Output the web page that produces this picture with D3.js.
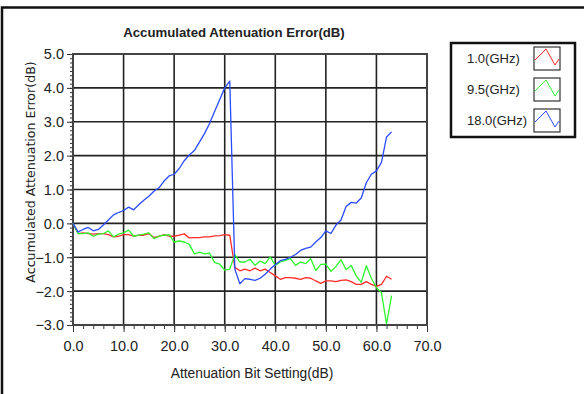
<!DOCTYPE html>
<html>
<head>
<meta charset="utf-8">
<script src="https://cdn.jsdelivr.net/npm/d3@7"></script>
<style>
  body { margin: 0; background: #fff; }
  svg text { font-family: "Liberation Sans Narrow", "Liberation Sans", sans-serif; fill: #222; }
</style>
</head>
<body>
<svg id="chart" width="584" height="394"></svg>
<script>
// attenuation bit setting, 0..63 dB
const bitSettings = d3.range(0, 64);

const err1GHz = [
  0, -0.3, -0.28, -0.3, -0.32, -0.3, -0.3, -0.33, -0.4, -0.38,
  -0.33, -0.33, -0.38, -0.35, -0.35, -0.3, -0.42, -0.38, -0.33, -0.38,
  -0.38, -0.35, -0.31, -0.43, -0.42, -0.42, -0.4, -0.4, -0.37, -0.36,
  -0.33, -0.35, -1.3, -1.4, -1.35, -1.4, -1.32, -1.4, -1.35, -1.45,
  -1.55, -1.65, -1.6, -1.6, -1.62, -1.65, -1.6, -1.62, -1.7, -1.77,
  -1.7, -1.7, -1.72, -1.68, -1.67, -1.72, -1.8, -1.8, -1.72, -1.8,
  -1.86, -1.8, -1.56, -1.65
];

const err9_5GHz = [
  0, -0.3, -0.3, -0.28, -0.38, -0.32, -0.3, -0.22, -0.4, -0.32,
  -0.28, -0.2, -0.38, -0.35, -0.32, -0.28, -0.45, -0.38, -0.35, -0.33,
  -0.55, -0.52, -0.55, -0.62, -0.9, -0.85, -0.9, -0.88, -1.15, -1.2,
  -1.38, -1.35, -0.92, -1.14, -1.14, -1.06, -1.24, -1.11, -1.19, -0.99,
  -1.24, -1.14, -1.09, -1.04, -1.24, -1.14, -1.19, -1.04, -1.39, -1.21,
  -1.2, -1.42, -1.27, -1.07, -1.37, -1.24, -1.55, -1.74, -1.25, -1.62,
  -1.9, -2.05, -2.97, -2.13
];

const err18GHz = [
  0, -0.25, -0.18, -0.12, -0.22, -0.18, -0.05, 0.1, 0.25, 0.32,
  0.38, 0.48, 0.4, 0.55, 0.68, 0.8, 0.95, 1.05, 1.25, 1.4,
  1.45, 1.62, 1.85, 2.02, 2.15, 2.4, 2.65, 2.95, 3.3, 3.65,
  4.0, 4.2, -1.35, -1.78, -1.63, -1.65, -1.68, -1.62, -1.5, -1.35,
  -1.22, -1.1, -1.06, -1.0, -0.92, -0.8, -0.74, -0.7, -0.55, -0.42,
  -0.22, -0.3, -0.05, 0.1, 0.5, 0.62, 0.6, 0.75, 1.2, 1.45,
  1.55, 1.8, 2.55, 2.7
];

const seriesNames = ["1.0(GHz)", "9.5(GHz)", "18.0(GHz)"];
const seriesColors = ["#ff2a2a", "#2ef52e", "#2a4bff"];
const seriesValues = [err1GHz, err9_5GHz, err18GHz];

const xTicks = [0, 10, 20, 30, 40, 50, 60, 70];
const yTicks = [-3, -2, -1, 0, 1, 2, 3, 4, 5];

const svg = d3.select('#chart');

// outer frame
svg.append('rect')
  .attr('x', 2).attr('y', 7.5)
  .attr('width', 620).attr('height', 420)
  .attr('fill', 'none').attr('stroke', '#111').attr('stroke-width', 2.5);

const margin = { top: 54, left: 73 };
const width = 354, height = 271;

const x = d3.scaleLinear().domain([0, 70]).range([0, width]);
const y = d3.scaleLinear().domain([-3, 5]).range([height, 0]);

const g = svg.append('g').attr('transform', `translate(${margin.left},${margin.top})`);

// grid
g.append('g').selectAll('line.vg')
  .data(xTicks.slice(1, -1))
  .join('line')
  .attr('x1', d => x(d)).attr('x2', d => x(d))
  .attr('y1', 0).attr('y2', height)
  .attr('stroke', '#222').attr('stroke-width', 1.6);

g.append('g').selectAll('line.hg')
  .data(yTicks.slice(1, -1))
  .join('line')
  .attr('y1', d => y(d)).attr('y2', d => y(d))
  .attr('x1', 0).attr('x2', width)
  .attr('stroke', '#222').attr('stroke-width', 1.6);

// minor ticks
g.append('g')
  .attr('transform', `translate(0,${height})`)
  .call(d3.axisBottom(x).tickValues(d3.range(0, 71, 2)).tickSize(4).tickFormat(''))
  .call(a => a.select('.domain').remove())
  .selectAll('line').attr('stroke', '#333');

g.append('g')
  .call(d3.axisLeft(y).tickValues(d3.range(-3, 5.01, 0.125)).tickSize(3).tickFormat(''))
  .call(a => a.select('.domain').remove())
  .selectAll('line').attr('stroke', '#333');

// major ticks + labels
const xAxis = g.append('g')
  .attr('transform', `translate(0,${height})`)
  .call(d3.axisBottom(x).tickValues(xTicks).tickSize(7).tickPadding(9).tickFormat(d3.format('.1f')));
xAxis.select('.domain').remove();
xAxis.selectAll('line').attr('stroke', '#333');
xAxis.selectAll('text').style('font-size', '14.5px').attr('fill', '#222');

const yAxis = g.append('g')
  .call(d3.axisLeft(y).tickValues(yTicks).tickSize(6).tickPadding(3).tickFormat(d3.format('.1f')));
yAxis.select('.domain').remove();
yAxis.selectAll('line').attr('stroke', '#333');
yAxis.selectAll('text').style('font-size', '14.5px').attr('fill', '#222').attr('dy', '0.34em');

// plot border
g.append('rect')
  .attr('width', width).attr('height', height)
  .attr('fill', 'none').attr('stroke', '#444').attr('stroke-width', 2);

// series
const line = d3.line()
  .x((d, i) => x(bitSettings[i]))
  .y(d => y(d));

seriesValues.forEach((vals, k) => {
  g.append('path')
    .datum(vals)
    .attr('d', line)
    .attr('fill', 'none')
    .attr('stroke', seriesColors[k])
    .attr('stroke-width', 1.3)
    .attr('stroke-linejoin', 'round');
});

// titles
svg.append('text')
  .attr('x', 234).attr('y', 37)
  .attr('text-anchor', 'middle')
  .style('font-size', '13.2px').style('font-weight', 'bold')
  .text('Accumulated Attenuation Error(dB)');

svg.append('text')
  .attr('x', 252).attr('y', 378)
  .attr('text-anchor', 'middle')
  .style('font-size', '13.8px')
  .text('Attenuation Bit Setting(dB)');

svg.append('text')
  .attr('transform', 'translate(35,172) rotate(-90)')
  .attr('text-anchor', 'middle')
  .style('font-family', '"DejaVu Sans", sans-serif')
  .style('font-size', '12.6px')
  .text('Accumulated Attenuation Error(dB)');

// legend
const legend = svg.append('g');
legend.append('rect')
  .attr('x', 451).attr('y', 43)
  .attr('width', 124).attr('height', 94)
  .attr('fill', '#fff').attr('stroke', '#111').attr('stroke-width', 2.5);

const rowY = [47, 78, 109];
const zig = d3.line();
seriesNames.forEach((name, k) => {
  const row = legend.append('g').attr('transform', `translate(0,${rowY[k]})`);
  row.append('text')
    .attr('x', 467).attr('y', 16)
    .style('font-size', '13px')
    .text(name);
  row.append('rect')
    .attr('x', 534).attr('y', 0)
    .attr('width', 26).attr('height', 23)
    .attr('fill', '#fff').attr('stroke', '#333').attr('stroke-width', 1.2);
  row.append('path')
    .attr('d', zig([[535, 13], [546, 2], [555, 18], [559, 12]]))
    .attr('fill', 'none').attr('stroke', seriesColors[k]).attr('stroke-width', 1);
});
</script>
</body>
</html>
